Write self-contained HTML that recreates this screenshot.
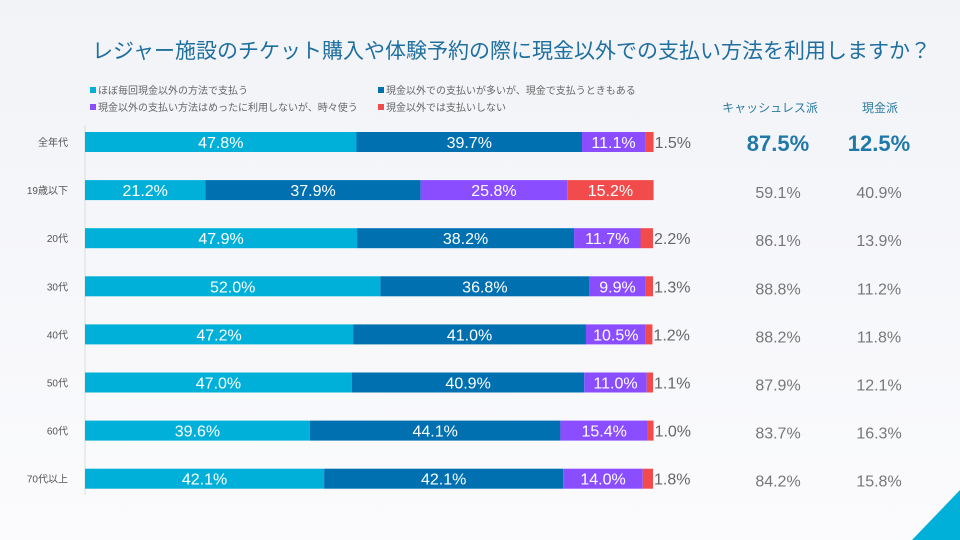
<!DOCTYPE html>
<html><head><meta charset="utf-8"><style>
body{margin:0;width:960px;height:540px;overflow:hidden;background:linear-gradient(#f1f3f7,#fbfbfd);font-family:"Liberation Sans","Noto Sans CJK JP",sans-serif}
svg{display:block}
</style></head><body>
<svg id="c" width="960" height="540">
<text x="92" y="58" font-size="21" fill="#1f6f9f">レジャー施設のチケット購入や体験予約の際に現金以外での支払い方法を利用しますか？</text>
<g font-size="10" fill="#666">
<g><rect x="90" y="87" width="6" height="6" fill="#00b0d8"/><text x="98" y="94">ほぼ毎回現金以外の方法で支払う</text></g>
<g><rect x="378" y="87" width="6" height="6" fill="#0070b0"/><text x="386" y="94">現金以外での支払いが多いが、現金で支払うときもある</text></g>
<g><rect x="90" y="104" width="6" height="6" fill="#8a4dff"/><text x="98" y="111">現金以外の支払い方法はめったに利用しないが、時々使う</text></g>
<g><rect x="378" y="104" width="6" height="6" fill="#f24b4b"/><text x="386" y="111">現金以外では支払いしない</text></g>
</g>
<text x="770" y="112" font-size="12" fill="#2a7aa0" text-anchor="middle">キャッシュレス派</text>
<text x="880" y="112" font-size="12" fill="#2a7aa0" text-anchor="middle">現金派</text>
<line x1="85" y1="125" x2="85" y2="495" stroke="#ddd"/>
<g id="bars"></g>
<polygon points="912,540 960,540 960,490" fill="#00b0d8"/>
</svg>
<script>
const categories=["全年代","19歳以下","20代","30代","40代","50代","60代","70代以上"];
const s1=[47.8,21.2,47.9,52.0,47.2,47.0,39.6,42.1];
const s2=[39.7,37.9,38.2,36.8,41.0,40.9,44.1,42.1];
const s3=[11.1,25.8,11.7,9.9,10.5,11.0,15.4,14.0];
const s4=[1.5,15.2,2.2,1.3,1.2,1.1,1.0,1.8];
const cashless=[87.5,59.1,86.1,88.8,88.2,87.9,83.7,84.2];
const cash=[12.5,40.9,13.9,11.2,11.8,12.1,16.3,15.8];
const colors=["#00b0d8","#0070b0","#8a4dff","#f24b4b"];
const X0=85,W=568,Y0=142,STEP=48.1,BH=20;
const xs=v=>v/100*W;
const ys=i=>Y0+i*STEP;
const g=document.getElementById('bars');
const NS="http://www.w3.org/2000/svg";
function mk(t,a){const e=document.createElementNS(NS,t);for(const k in a)e.setAttribute(k,a[k]);return e;}
categories.forEach((c,i)=>{
  const cy=ys(i);
  const lab=mk('text',{x:68,y:cy+4,'font-size':10,fill:'#555','text-anchor':'end'});
  lab.textContent=c;
  
  
  g.appendChild(lab);
  let x=X0;
  [s1,s2,s3,s4].forEach((s,k)=>{
    const v=s[i],w=xs(v);
    const r=mk('rect',{x:x,y:cy-BH/2,width:w,height:BH,fill:colors[k]});
    
    
    g.appendChild(r);
    const inside=w>40;
    const t=mk('text',{x:inside?x+w/2:x+w+1,y:cy+6,'font-size':16,fill:inside?'#fff':'#666','text-anchor':inside?'middle':'start'});
    t.textContent=v.toFixed(1)+'%';
    
    
    g.appendChild(t);
    x+=w;
  });
  const big=i===0;
  const a=mk('text',{x:778,y:cy+(big?9:8),'font-size':big?22:16,'font-weight':big?'bold':'normal',fill:big?'#1f78a8':'#777','text-anchor':'middle'});
  a.textContent=cashless[i].toFixed(1)+'%';
  
  
  g.appendChild(a);
  const b=mk('text',{x:879,y:cy+(big?9:8),'font-size':big?22:16,'font-weight':big?'bold':'normal',fill:big?'#1f78a8':'#777','text-anchor':'middle'});
  b.textContent=cash[i].toFixed(1)+'%';
  
  
  g.appendChild(b);
});
</script>
</body></html>
